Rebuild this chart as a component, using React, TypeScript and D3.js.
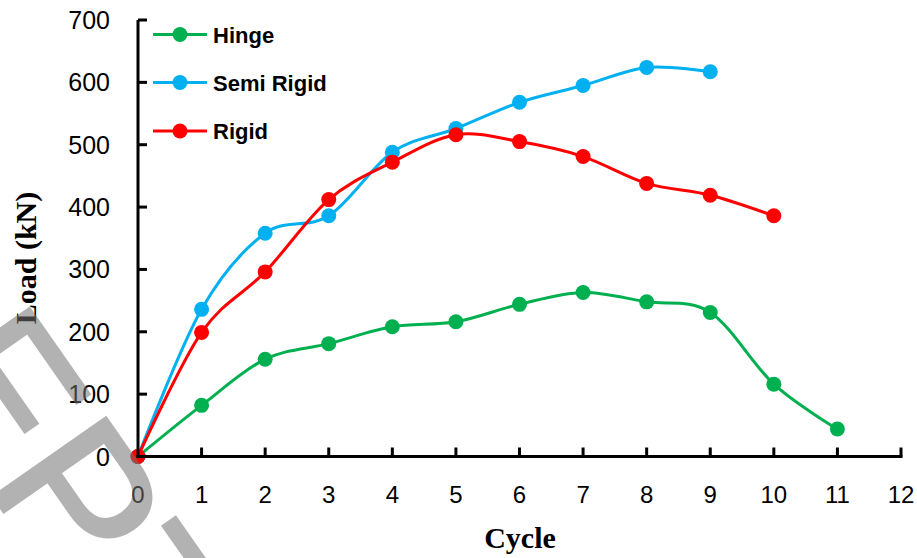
import React from "react";
import * as d3 from "d3";

// Load (kN) recorded at each loading cycle for the three connection types
const hingeLoad = [0, 82, 156, 181, 208, 216, 244, 263, 248, 231, 116, 44];
const semiRigidLoad = [0, 236, 358, 386, 488, 526, 568, 595, 624, 617];
const rigidLoad = [0, 199, 296, 412, 472, 516, 505, 481, 438, 419, 386];

const seriesNames = ["Hinge", "Semi Rigid", "Rigid"];
const seriesColors = ["#00B050", "#00B0F0", "#FF0000"];

const xTicks = [0, 1, 2, 3, 4, 5, 6, 7, 8, 9, 10, 11, 12];
const yTicks = [0, 100, 200, 300, 400, 500, 600, 700];

const W = 917;
const H = 558;

export default function App() {
  const x = d3.scaleLinear().domain([0, 12]).range([138, 901]);
  const y = d3.scaleLinear().domain([0, 700]).range([456.5, 20]);

  const series = [hingeLoad, semiRigidLoad, rigidLoad];

  const line = d3
    .line<number>()
    .x((_, i) => x(i))
    .y((d) => y(d))
    .curve(d3.curveCatmullRom.alpha(0));

  const legendRows = [34.5, 82.5, 131];

  return (
    <svg
      width={W}
      height={H}
      style={{ position: "absolute", left: 0, top: 0, background: "#fff" }}
    >
      <rect width={W} height={H} fill="#fff" />

      {/* series */}
      {series.map((vals, s) => (
        <g key={seriesNames[s]}>
          <path d={line(vals) || ""} fill="none" stroke={seriesColors[s]} strokeWidth={3} />
          {vals.map((v, i) => (
            <circle key={i} cx={x(i)} cy={y(v)} r={7.5} fill={seriesColors[s]} />
          ))}
        </g>
      ))}

      {/* axes */}
      <line x1={x(0)} x2={x(0)} y1={y(700)} y2={y(0) + 1.5} stroke="#000" strokeWidth={3} />
      <line x1={x(0) - 1.5} x2={x(12) + 1.5} y1={y(0)} y2={y(0)} stroke="#000" strokeWidth={3} />
      {yTicks.map((t) => (
        <g key={"y" + t}>
          <line x1={x(0)} x2={x(0) + 9} y1={y(t)} y2={y(t)} stroke="#000" strokeWidth={3} />
          <text x={110} y={y(t) + 9} textAnchor="end" fontFamily="'Liberation Sans', Arial, sans-serif" fontSize={25} fill="#000">
            {t}
          </text>
        </g>
      ))}
      {xTicks.map((t) => (
        <g key={"x" + t}>
          {t > 0 && <line x1={x(t)} x2={x(t)} y1={y(0)} y2={y(0) - 9} stroke="#000" strokeWidth={3} />}
          <text x={x(t)} y={503} textAnchor="middle" fontFamily="'Liberation Sans', Arial, sans-serif" fontSize={24} fill="#000">
            {t}
          </text>
        </g>
      ))}

      {/* axis titles */}
      <text x={520} y={548} textAnchor="middle" fontFamily="'Liberation Serif', 'Times New Roman', serif" fontWeight="bold" fontSize={30} fill="#000">
        Cycle
      </text>
      <text transform="translate(36,258) rotate(-90)" textAnchor="middle" fontFamily="'Liberation Serif', 'Times New Roman', serif" fontWeight="bold" fontSize={30} fill="#000">
        Load (kN)
      </text>

      {/* legend */}
      {seriesNames.map((name, s) => (
        <g key={"lg" + name}>
          <line x1={153} x2={207} y1={legendRows[s]} y2={legendRows[s]} stroke={seriesColors[s]} strokeWidth={3} />
          <circle cx={180} cy={legendRows[s]} r={7.5} fill={seriesColors[s]} />
          <text x={213} y={legendRows[s] + 8} fontFamily="'Liberation Sans', Arial, sans-serif" fontWeight="bold" fontSize={22} fill="#000">
            {name}
          </text>
        </g>
      ))}

      {/* watermark */}
      <g opacity={0.55}>
        <text
          transform="translate(-335,28) rotate(55)"
          fontFamily="'Liberation Sans', Arial, sans-serif"
          fontSize={200}
          fill="#747474"
          stroke="#747474"
          strokeWidth={3}
        >
          ACCEPTED MANUSCRIPT
        </text>
      </g>
    </svg>
  );
}
